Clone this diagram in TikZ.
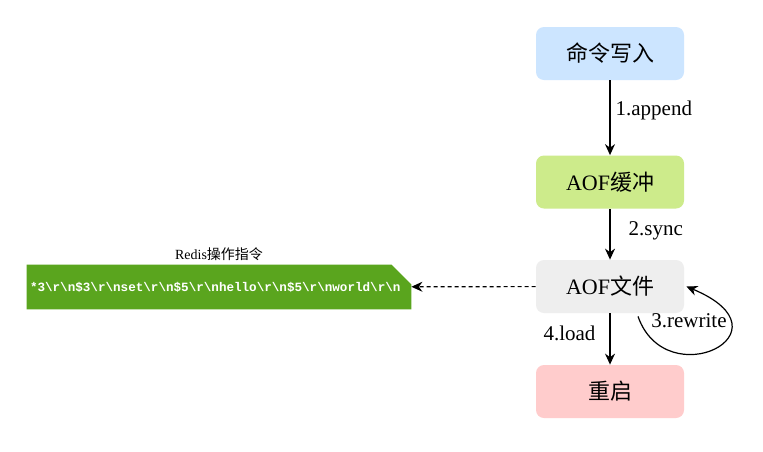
\documentclass[tikz,border=0pt]{standalone}
\usepackage{fontspec}
\setmainfont{Liberation Serif}
\setmonofont{Liberation Mono}
\newfontfamily\cjk{Noto Sans CJK SC}
\usepackage{tikz}
\usetikzlibrary{arrows.meta,positioning,calc,backgrounds}
\definecolor{clWrite}{HTML}{CCE5FF}
\definecolor{clBuffer}{HTML}{CDEB8B}
\definecolor{clFile}{HTML}{EEEEEE}
\definecolor{clRestart}{HTML}{FFCCCC}
\definecolor{clBanner}{HTML}{5AA51E}
\tikzset{
  box/.style={rectangle, rounded corners=4pt, draw=none, align=center, inner sep=0pt,
              minimum width=74pt, minimum height=26.5pt, font=\fontsize{11}{13}\selectfont},
  writebox/.style={box, fill=clWrite},
  bufbox/.style={box, fill=clBuffer},
  filebox/.style={box, fill=clFile},
  restartbox/.style={box, fill=clRestart},
  banner/.style={rectangle, inner xsep=1.5pt, inner ysep=0pt, text width=189pt, align=left,
                 minimum height=22pt, text=white, font=\ttfamily\bfseries\fontsize{6.3}{7.5}\selectfont},
  flow/.style={-{Stealth[length=5.5pt,width=5pt]}, semithick, draw=black},
  flowlabel/.style={font=\fontsize{10.5}{12}\selectfont, inner sep=1pt},
}

\begin{document}
\begin{tikzpicture}[x=0.5pt, y=-0.5pt]
  \useasboundingbox (0,0) rectangle (763,451);
  \node[writebox] (write) at (610,53.5) {\cjk 命令写入};
  \node[bufbox] (buf) at (610,182) {AOF{\cjk 缓冲}};
  \node[filebox] (file) at (610,286.5) {AOF{\cjk 文件}};
  \node[restartbox] (restart) at (610,391.5) {\cjk 重启};
  \node[banner] (cmd) at (219,287) {*3\textbackslash r\textbackslash n\$3\textbackslash r\textbackslash nset\textbackslash r\textbackslash n\$5\textbackslash r\textbackslash nhello\textbackslash r\textbackslash n\$5\textbackslash r\textbackslash nworld\textbackslash r\textbackslash n};
  \node[above=1pt of cmd, inner sep=1pt, font=\fontsize{7}{8}\selectfont] (title) {Redis{\cjk 操作指令}};
  \begin{scope}[on background layer]
    \fill[white] (0,0) rectangle (763,451);
    \fill[clBanner] (cmd.north west) -- ([xshift=-10pt]cmd.north east)
      -- ([yshift=-10pt]cmd.north east) -- (cmd.south east) -- (cmd.south west) -- cycle;
  \end{scope}
  \draw[flow] (write) -- node[flowlabel, right=1.5pt, yshift=3.5pt]{1.append} (buf);
  \draw[flow] (buf) -- node[flowlabel, right=8pt, yshift=1.5pt]{2.sync} (file);
  \draw[flow] (file) -- node[flowlabel, left=6pt, yshift=3pt]{4.load} (restart);
  \draw[flow, dash pattern=on 2pt off 1.5pt] (file) -- (cmd);
  \draw[flow] ([xshift=14pt,yshift=-1.5pt]file.south)
    .. controls +(14pt,-40pt) and +(55pt,-23pt) .. ([xshift=1pt]file.east);
  \node[flowlabel] (rewrite) at (689,321) {3.rewrite};
\end{tikzpicture}
\end{document}
